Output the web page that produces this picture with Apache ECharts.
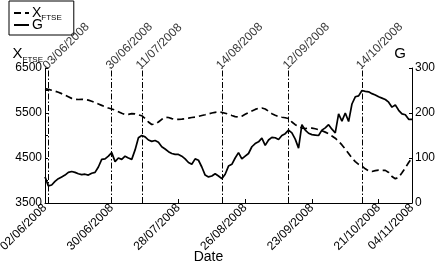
<!DOCTYPE html>
<html>
<head>
<meta charset="utf-8">
<script src="https://cdn.jsdelivr.net/npm/echarts@6/dist/echarts.min.js"></script>
<style>
html,body{margin:0;padding:0;background:#fff;}
#c{width:436px;height:262px;}
</style>
</head>
<body>
<div id="c"></div>
<script>
// Trading-day index (0 = 02/06/2008 ... 110 = 04/11/2008)
const ftse = [
  6040,6025,6005,5985,5960,5930,5895,5860,5825,5805,
  5800,5805,5800,5785,5760,5730,5700,5670,5640,5610,
  5590,5565,5530,5495,5465,5470,5485,5480,5460,5440,
  5380,5300,5245,5255,5300,5360,5405,5400,5375,5360,
  5360,5365,5372,5385,5400,5410,5425,5445,5462,5480,
  5500,5515,5522,5515,5495,5475,5445,5420,5410,5430,
  5470,5510,5545,5580,5605,5612,5590,5540,5485,5450,
  5420,5405,5395,5375,5300,5240,5200,5165,5155,5160,
  5165,5150,5130,5105,5075,5040,4990,4940,4870,4790,
  4700,4600,4500,4420,4360,4320,4260,4215,4200,4220,
  4230,4225,4225,4180,4090,4040,4070,4170,4280,4400,
  4500
];
const gVals = [
  58,38,40,48,54,58,62,68,70,68,
  65,63,64,62,66,68,80,97,98,104,
  112,92,100,97,104,100,97,118,145,150,
  147,140,137,139,135,125,120,114,110,108,
  108,104,98,90,86,98,95,80,62,58,
  60,65,60,54,64,82,86,100,112,98,
  104,110,125,132,136,144,128,140,146,145,
  141,150,154,162,156,142,122,174,162,155,
  152,151,150,162,167,174,164,156,198,182,
  200,181,220,236,238,250,248,247,243,240,
  236,233,230,224,213,218,206,198,196,186,
  186
];
const tickDay = [0,20,40,60,80,100,110];
const tickLabels = ['02/06/2008','30/06/2008','28/07/2008','26/08/2008','23/09/2008','21/10/2008','04/11/2008'];
const eventDay = [1,20,29,53,73,95];
const eventLabels = ['03/06/2008','30/06/2008','11/07/2008','14/08/2008','12/09/2008','14/10/2008'];
const leftTicks = [3500,4000,4500,5000,5500,6000,6500];
const leftLabels = [3500,4500,5500,6500];
const rightTicks = [0,100,200,300];

const FONT = "'Liberation Sans', Arial, sans-serif";
const chart = echarts.init(document.getElementById('c'), null, {renderer:'canvas'});
chart.setOption({
  animation:false,
  backgroundColor:'#fff',
  textStyle:{fontFamily:FONT,color:'#000'},
  grid:{left:45,right:24,top:68,bottom:59,containLabel:false,outerBoundsMode:'none'},
  legend:{
    left:9, top:1, orient:'vertical',
    data:[{name:'X_FTSE'},{name:'G'}],
    itemWidth:15, itemHeight:8, itemGap:-4,
    padding:[5,12,3,4],
    borderColor:'#000', borderWidth:1,
    itemStyle:{opacity:0},
    formatter:function(n){ return n==='X_FTSE' ? '{x|X}{s|FTSE}' : '{x|G}'; },
    textStyle:{
      fontFamily:FONT,color:'#000',padding:[0,0,0,-2],
      rich:{
        x:{fontSize:14,lineHeight:12,fontFamily:FONT,color:'#000'},
        s:{fontSize:8,lineHeight:12,verticalAlign:'bottom',fontFamily:FONT,color:'#000',padding:[0,0,-3,0]}
      }
    }
  },
  xAxis:{
    type:'value', min:0, max:110,
    axisLine:{show:true,lineStyle:{color:'#000',width:1}},
    axisTick:{show:true,inside:true,length:4,customValues:tickDay,lineStyle:{color:'#000'}},
    axisLabel:{customValues:tickDay,rotate:45,margin:3,align:'right',verticalAlign:'middle',
      padding:[12,0,0,0],
      fontSize:12,color:'#000',fontFamily:FONT,
      formatter:function(v){ const i=tickDay.indexOf(v); return i>=0?tickLabels[i]:''; }},
    splitLine:{show:false},
    name:'Date', nameLocation:'middle', nameGap:47, nameMoveOverlap:false,
    nameTextStyle:{fontSize:14,color:'#000',fontFamily:FONT,padding:[0,40,0,0]}
  },
  yAxis:[{
    type:'value', min:3500, max:6500, position:'left',
    axisLine:{show:true,lineStyle:{color:'#000',width:1}},
    axisTick:{show:true,inside:true,length:3,customValues:leftTicks,lineStyle:{color:'#000'}},
    axisLabel:{customValues:leftLabels,margin:3,fontSize:12,color:'#000',fontFamily:FONT,
      formatter:function(v){ return String(v); }},
    splitLine:{show:false},
    name:'{x|X}{s|FTSE}', nameLocation:'end', nameGap:14, nameMoveOverlap:false,
    nameTextStyle:{align:'right',verticalAlign:'middle',padding:[0,2,0,0],
      rich:{
        x:{fontSize:15,lineHeight:14,fontFamily:FONT,color:'#000'},
        s:{fontSize:8,lineHeight:14,verticalAlign:'bottom',fontFamily:FONT,color:'#000',padding:[0,0,-3,0]}
      }}
  },{
    type:'value', min:0, max:300, position:'right',
    axisLine:{show:true,lineStyle:{color:'#000',width:1}},
    axisTick:{show:true,inside:true,length:3,customValues:rightTicks,lineStyle:{color:'#000'}},
    axisLabel:{customValues:rightTicks,margin:3,fontSize:12,color:'#000',fontFamily:FONT,
      formatter:function(v){ return String(v); }},
    splitLine:{show:false},
    name:'G', nameLocation:'end', nameGap:14, nameMoveOverlap:false,
    nameTextStyle:{fontSize:15,color:'#000',fontFamily:FONT,align:'right',verticalAlign:'middle',padding:[0,6,0,0]}
  }],
  series:[{
    name:'X_FTSE', type:'line', yAxisIndex:0, symbol:'none', showSymbol:false,
    data: ftse.map(function(v,i){return [i,v];}),
    lineStyle:{color:'#000',width:1.7,type:[7,4]}, itemStyle:{color:'#000'}, z:3
  },{
    name:'G', type:'line', yAxisIndex:1, symbol:'none', showSymbol:false,
    data: gVals.map(function(v,i){return [i,v];}),
    lineStyle:{color:'#000',width:1.7,type:'solid'}, itemStyle:{color:'#000'}, z:3
  },{
    name:'events', type:'scatter', yAxisIndex:0, symbolSize:1, clip:false, silent:true,
    itemStyle:{color:'rgba(0,0,0,0)'},
    data: eventDay.map(function(d,i){return {value:[d,6500],name:eventLabels[i]};}),
    label:{show:true,formatter:'{b}',position:[-3,0],align:'left',verticalAlign:'middle',rotate:45,
      fontSize:12,color:'#000',fontFamily:FONT},
    markLine:{
      silent:true, symbol:['none','none'], label:{show:false},
      lineStyle:{color:'#000',width:1,type:[6,2,1.5,2]},
      data: eventDay.map(function(d){return {xAxis:d};})
    },
    z:2
  }]
});
</script>
</body>
</html>
